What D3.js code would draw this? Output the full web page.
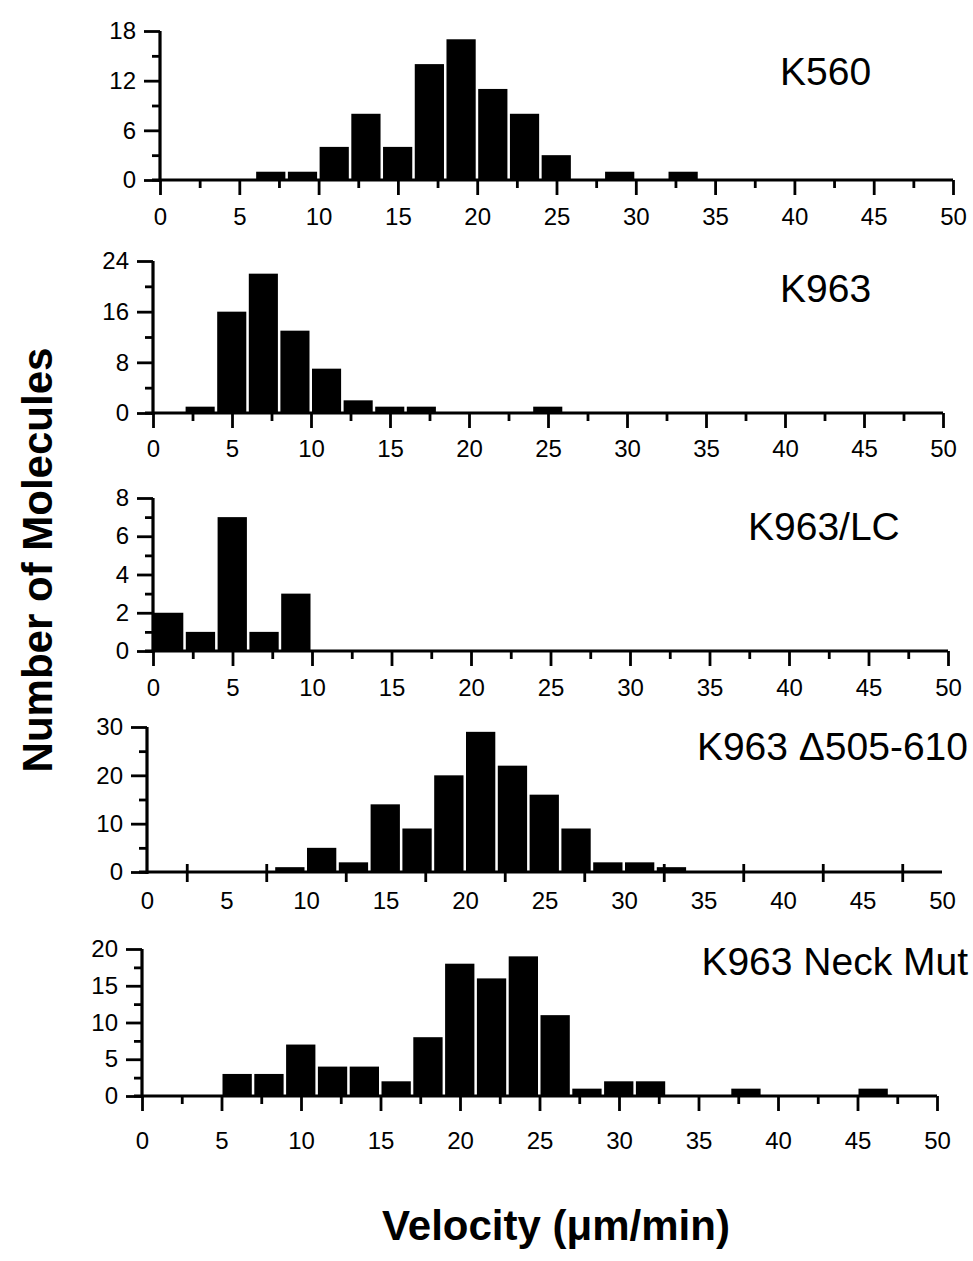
<!DOCTYPE html>
<html>
<head>
<meta charset="utf-8">
<script src="https://cdn.jsdelivr.net/npm/d3@7"></script>
<style>
  html, body { margin: 0; padding: 0; background: #fff; }
  svg { display: block; }
  text { font-family: "Liberation Sans", Arial, Helvetica, sans-serif; fill: #000; }
</style>
</head>
<body>
<svg id="chart" width="973" height="1261"></svg>
<script>
// ---------------- DATA ----------------
const xTickLabels = [0, 5, 10, 15, 20, 25, 30, 35, 40, 45, 50];
const binWidth = 2;

const k560Bins   = [6, 8, 10, 12, 14, 16, 18, 20, 22, 24, 28, 32];
const k560Counts = [1, 1, 4, 8, 4, 14, 17, 11, 8, 3, 1, 1];
const k560YTicks = [0, 6, 12, 18];

const k963Bins   = [2, 4, 6, 8, 10, 12, 14, 16, 24];
const k963Counts = [1, 16, 22, 13, 7, 2, 1, 1, 1];
const k963YTicks = [0, 8, 16, 24];

const k963lcBins   = [0, 2, 4, 6, 8];
const k963lcCounts = [2, 1, 7, 1, 3];
const k963lcYTicks = [0, 2, 4, 6, 8];

const k963delBins   = [8, 10, 12, 14, 16, 18, 20, 22, 24, 26, 28, 30, 32];
const k963delCounts = [1, 5, 2, 14, 9, 20, 29, 22, 16, 9, 2, 2, 1];
const k963delYTicks = [0, 10, 20, 30];

const neckBins   = [5, 7, 9, 11, 13, 15, 17, 19, 21, 23, 25, 27, 29, 31, 37, 45];
const neckCounts = [3, 3, 7, 4, 4, 2, 8, 18, 16, 19, 11, 1, 2, 2, 1, 1];
const neckYTicks = [0, 5, 10, 15, 20];

const panelNames = ["K560", "K963", "K963/LC", "K963 \u0394505-610", "K963 Neck Mut"];
const yTitle = "Number of Molecules";
const xTitle = "Velocity (\u03bcm/min)";

// ---------------- LAYOUT ----------------
const layout = [
  { bins: k560Bins,   counts: k560Counts,   yTicks: k560YTicks,   x0: 160, x1: 953, y0: 180, y1: 31,  labelOff: 36, name: { x: 780, y: 85, anchor: "start" }, midTicks: false },
  { bins: k963Bins,   counts: k963Counts,   yTicks: k963YTicks,   x0: 153, x1: 943, y0: 413, y1: 261, labelOff: 35, name: { x: 780, y: 302, anchor: "start" }, midTicks: false },
  { bins: k963lcBins, counts: k963lcCounts, yTicks: k963lcYTicks, x0: 153, x1: 948, y0: 651, y1: 498, labelOff: 36, name: { x: 748, y: 540, anchor: "start" }, midTicks: false },
  { bins: k963delBins,counts: k963delCounts,yTicks: k963delYTicks,x0: 147, x1: 942, y0: 872, y1: 727, labelOff: 28, name: { x: 968, y: 760, anchor: "end" }, midTicks: true },
  { bins: neckBins,   counts: neckCounts,   yTicks: neckYTicks,   x0: 142, x1: 937, y0: 1096, y1: 949, labelOff: 44, name: { x: 968, y: 975, anchor: "end" }, midTicks: false }
];

const svg = d3.select("#chart");

layout.forEach((p, i) => {
  const yMax = p.yTicks[p.yTicks.length - 1];
  const x = d3.scaleLinear().domain([0, 50]).range([p.x0, p.x1]);
  const y = d3.scaleLinear().domain([0, yMax]).range([p.y0, p.y1]);
  const g = svg.append("g");

  const step = p.yTicks[1] - p.yTicks[0];
  const yMinor = p.yTicks.slice(0, -1).map(v => v + step / 2);

  // y minor ticks
  g.append("g").attr("transform", `translate(${p.x0},0)`)
    .call(d3.axisLeft(y).tickValues(yMinor).tickSize(8).tickFormat(""))
    .call(s => s.select(".domain").remove())
    .call(s => s.selectAll(".tick line").attr("stroke-width", 2.8));

  // y major ticks + labels
  g.append("g").attr("transform", `translate(${p.x0},0)`)
    .call(d3.axisLeft(y).tickValues(p.yTicks).tickSize(16).tickSizeOuter(0).tickPadding(8).tickFormat(d3.format("d")))
    .call(s => s.select(".domain").attr("stroke-width", 3.2).attr("d", `M0,${y(0) + 2}V${y(yMax)}`))
    .call(s => s.selectAll(".tick line").attr("stroke-width", 2.8))
    .call(s => s.selectAll(".tick text").attr("font-size", 24).attr("font-family", "Liberation Sans, Arial, sans-serif"));

  // x axis
  const xg = g.append("g").attr("transform", `translate(0,${p.y0})`);
  if (p.midTicks) {
    const mids = xTickLabels.slice(0, -1).map(v => v + 2.5);
    xg.call(d3.axisBottom(x).tickValues(mids).tickSize(10).tickSizeOuter(0).tickFormat(""))
      .call(s => s.selectAll(".tick line").attr("y1", -8).attr("stroke-width", 2.8));
  } else {
    const minors = xTickLabels.slice(0, -1).map(v => v + 2.5);
    xg.call(d3.axisBottom(x).tickValues(minors).tickSize(8).tickSizeOuter(0).tickFormat(""))
      .call(s => s.selectAll(".tick line").attr("stroke-width", 2.8));
    xg.append("g")
      .call(d3.axisBottom(x).tickValues(xTickLabels).tickSize(15).tickSizeOuter(0).tickFormat(""))
      .call(s => s.select(".domain").remove())
      .call(s => s.selectAll(".tick line").attr("stroke-width", 2.8));
  }
  xg.select(".domain").attr("stroke-width", 3.2).attr("d", `M${p.x0 - 8},0H${p.x1}`);

  // x labels
  xg.append("g")
    .call(d3.axisBottom(x).tickValues(xTickLabels).tickSize(0).tickPadding(p.labelOff - 8.5).tickFormat(d3.format("d")))
    .call(s => s.select(".domain").remove())
    .call(s => s.selectAll(".tick text").attr("font-size", 24).attr("font-family", "Liberation Sans, Arial, sans-serif"));

  // bars
  const data = p.bins.map((b, k) => ({ start: b, count: p.counts[k] }));
  g.append("g").selectAll("rect").data(data).join("rect")
    .attr("x", d => x(d.start) + 1)
    .attr("width", d => x(d.start + binWidth) - x(d.start) - 2.5)
    .attr("y", d => y(d.count))
    .attr("height", d => y(0) - y(d.count))
    .attr("fill", "#000");

  // panel name
  g.append("text")
    .attr("x", p.name.x).attr("y", p.name.y)
    .attr("text-anchor", p.name.anchor)
    .attr("font-size", 39)
    .text(panelNames[i]);
});

// axis titles
svg.append("text")
  .attr("transform", "translate(52,560) rotate(-90)")
  .attr("text-anchor", "middle")
  .attr("font-size", 42)
  .attr("font-weight", "bold")
  .text(yTitle);

svg.append("text")
  .attr("x", 556).attr("y", 1240)
  .attr("text-anchor", "middle")
  .attr("font-size", 42)
  .attr("font-weight", "bold")
  .text(xTitle);
</script>
</body>
</html>
